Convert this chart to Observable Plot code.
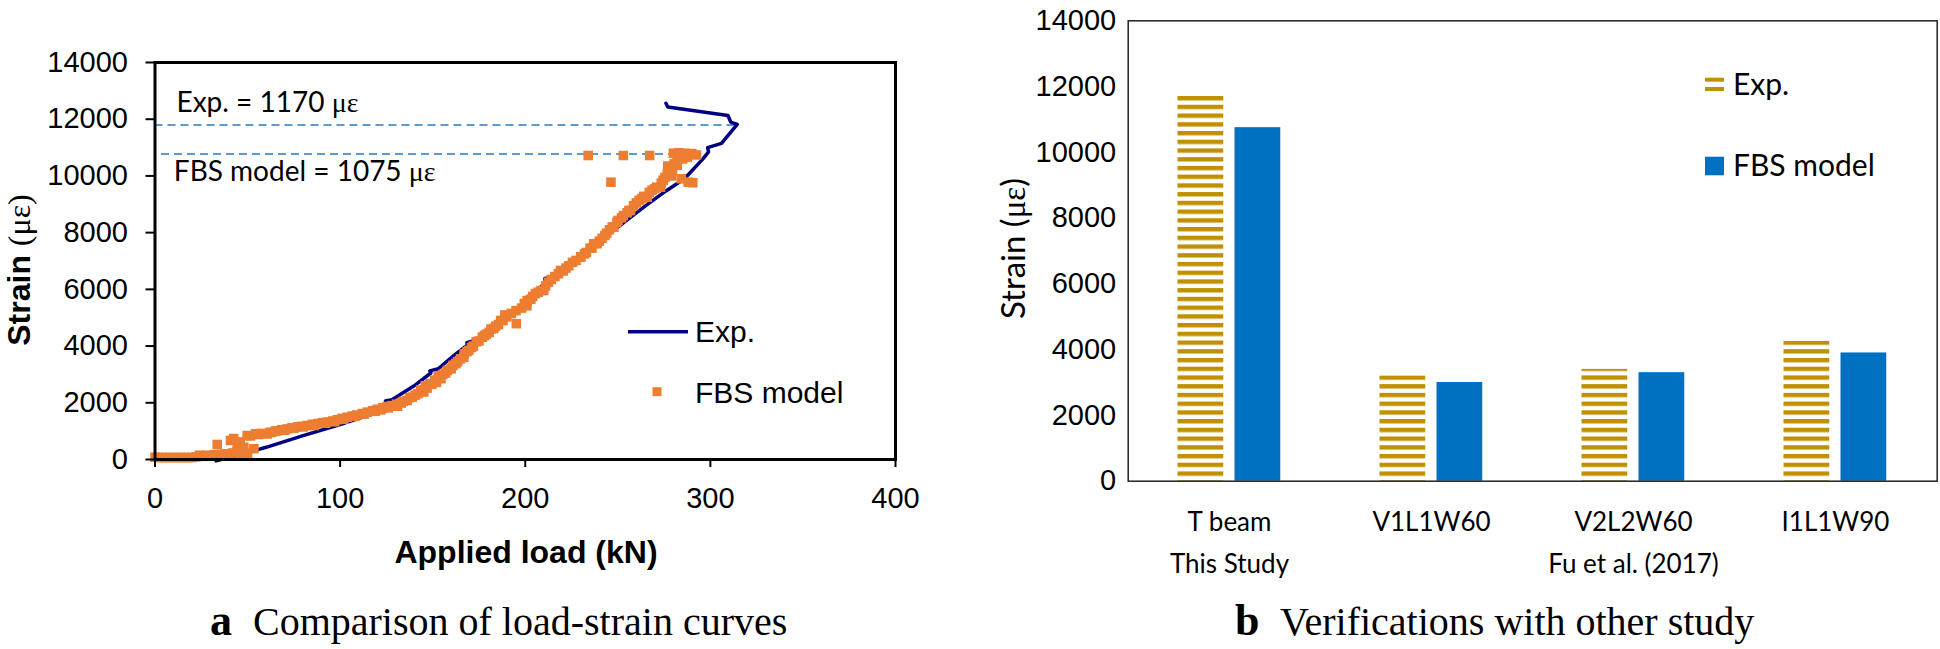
<!DOCTYPE html>
<html><head><meta charset="utf-8">
<script src="https://cdn.jsdelivr.net/npm/d3@7"></script>
<script src="https://cdn.jsdelivr.net/npm/@observablehq/plot@0.6"></script>
<style>
body{margin:0;background:#fff;}
#wrap{position:relative;width:1940px;height:649px;overflow:hidden;background:#fff}
#left,#right,#overlay{position:absolute;top:0}
#left{left:0;width:970px} #right{left:970px;width:970px} #overlay{left:0;pointer-events:none}
</style></head><body>
<div id="wrap"><div id="left"></div><div id="right"></div><svg id="overlay" width="1940" height="649"></svg></div>
<script>
// ---------- data: panel a ----------
const xTicks = [0, 100, 200, 300, 400];
const yTicks = [0, 2000, 4000, 6000, 8000, 10000, 12000, 14000];
const expCurve = [[33,-50],[45,150],[60,430],[80,840],[100,1235],[115,1560],[125,1850],[124.5,2060],[128,2110],[140,2600],[149,3050],[148.5,3120],[153,3200],[162,3700],[169,4050],[168.5,4120],[174,4230],[188,4950],[200,5550],[211,6250],[210.5,6380],[216,6450],[226,6950],[239,7610],[250,8190],[264,8900],[276,9470],[286,9900],[296,10600],[299,10850],[298.5,11000],[306,11150],[314.5,11820],[311,11900],[309.5,12130],[277,12430],[276,12560]];
const fbsPoints = [
[0,80],[2,70],[4,70],[6,70],[8,70],[10,70],[12,70],[14,70],[16,70],[18,70],[20,70],[22,90],[24,150],[26,110],[28,150],[30,120],[32,170],[34,140],[36,180],[38,200],[40,170],[42,230],[44,260],[46,200],[48,240],[50,170],
[33.6,530],[40.8,670],[42.5,740],[44.4,550],[46,620],[48,430],[49.8,846],[51.5,830],[53.4,380],[54.3,906],[56,880],[57.5,920],
[60.6,900],[63,960],[66,1010],[68.5,1050],[71.4,1080],[74,1120],[77,1150],[79.5,1170],[82.2,1200],[85,1240],[88,1270],[90.5,1300],[93,1320],[96,1360],[98.5,1400],[101,1450],[103.8,1490],[106.5,1530],[109,1570],[112,1620],[114.7,1670],[117.5,1720],[120,1770],[123,1820],[125.4,1870],[128,1900],[130.5,1950],[133,1990],[136.2,2080],[139,2200],[142,2320],[145.2,2380],[147,2520],[149.5,2650],[152,2720],[154.5,2850],[157,3050],[160,3200],[162.5,3380],[165,3550],[167,3730],[169.5,3850],[172,4000],[175,4180],[178,4370],[180.5,4480],[183,4620],[185.5,4760],[188,4900],[190,5030],[195.2,4790],[192.5,5150],[195,5250],[198,5340],[200.9,5420],[203,5650],[205.5,5850],[208.5,5960],[211,6120],[214,6350],[217.9,6550],[220.5,6650],[223.5,6830],[227.4,7020],[230,7150],[233,7300],[236,7450],[238.8,7610],[241.5,7800],[244,7980],[247,8200],[250.1,8430],[253,8600],[256,8780],[258.5,8950],[261.5,9140],[264,9280],[267,9420],[271,9600],[273.5,9750],[275.5,9950],[276.7,10080],[278.5,10250],[280.5,10430],[282,10600],[284.3,10720],[286,10800],[288,10780],[290,10790],[292.5,10740],[280,10800],[283,10820],
[277,10350],[279,10000],[284.3,9900],[288,9780],[290.5,9760],
[246.3,9780],[234,10720],[253,10720],[267.2,10720],
[62,950],[65,1000],[70,1030],[75,1100],[80,1150],[86,1200],[92,1280],[97,1330],[102,1420],[108,1520],[113,1600],[119,1700],[122,1750],[126,1820],[129,1880],
[131,1880],[134,2050],[137.5,2180],[140.5,2270],[143.5,2450],[146,2600],[148.4,2670],[151,2800],[153,2950],[155.5,3000],[157.9,3139],[161,3320],[163.5,3450],[166.8,3608],[168.5,3800],[171,3950],[173.5,4150],[176.8,4314],[179,4420],[181.5,4600],[184,4700],[186.7,4903],[189,5100],[199.5,5500],[201,5608],[204,5750],[207,5900],[210,5961],[212.5,6250],[216,6450],[219,6667],[222,6750],[225.5,6950],[229.9,7136],[232,7250],[235,7450],[237,7608],[240,7700],[243,7900],[245.5,8100],[247.9,8194],[249.5,8350],[252,8520],[255,8700],[256.9,8783],[260,9050],[263,9200],[265.9,9252],[268.5,9500],[270,9550],[273.1,9605],[274.5,9850],[277.6,10018],[279.5,10200],[282.1,10370],[285,10600],[287.5,10663]
];
const refLines = [{strain: 11800, from: 0, to: 314.5}, {strain: 10770, from: 3.5, to: 294}];
const annotationExp = ["Exp. = 1170 με"];
const annotationFbs = ["FBS model = 1075 με"];

// ---------- data: panel b ----------
const groups = ["T beam", "V1L1W60", "V2L2W60", "I1L1W90"];
const expValues = [11700, 3200, 3400, 4250];
const fbsValues = [10750, 3000, 3300, 3900];
const studies = [{group: "T beam", label: "This Study"}, {group: "V2L2W60", label: "Fu et al. (2017)"}];

const NS = "http://www.w3.org/2000/svg";
const fmt = d => String(d);

// ---------- panel a ----------
const expData = expCurve.map(([load, strain]) => ({load, strain}));
const fbsData = fbsPoints.map(([load, strain]) => ({load, strain}));

const left = Plot.plot({
  width: 970, height: 649,
  marginLeft: 154.5, marginRight: 75, marginTop: 62, marginBottom: 190,
  style: {fontFamily: "Liberation Sans", fontSize: "29px", background: "transparent", color: "#000"},
  x: {domain: [0, 400]},
  y: {domain: [0, 14000]},
  marks: [
    Plot.ruleY(refLines, {y: "strain", x1: "from", x2: "to", stroke: "#5B9BD5", strokeWidth: 2, strokeDasharray: "8,5"}),
    Plot.line(expData, {x: "load", y: "strain", stroke: "#000080", strokeWidth: 3.5}),
    Plot.dot(fbsData, {x: "load", y: "strain", symbol: "square", r: 5.4, fill: "#ED7D31", stroke: "none"}),
    Plot.text(annotationExp, {text: d => d, frameAnchor: "top-left", textAnchor: "start", lineAnchor: "middle", dx: 21.5, dy: 41, fontFamily: "Lato", fontSize: 28, fill: "#000"}),
    Plot.text(annotationFbs, {text: d => d, frameAnchor: "top-left", textAnchor: "start", lineAnchor: "middle", dx: 18.8, dy: 110, fontFamily: "Lato", fontSize: 28, fill: "#000"}),
    Plot.axisY({ticks: yTicks, tickSize: 9, tickPadding: 18, tickFormat: fmt, fontSize: 29, strokeWidth: 2, label: null}),
    Plot.axisX({ticks: xTicks, tickSize: 8, tickPadding: 20, tickFormat: fmt, fontSize: 29, strokeWidth: 2, label: null}),
    Plot.frame({stroke: "#000", strokeWidth: 3})
  ]
});
left.querySelectorAll("text").forEach(t => {
  const s = t.textContent;
  if (s.includes("με") && t.children.length === 0) {
    const i = s.indexOf("με");
    t.textContent = s.slice(0, i);
    const ts = document.createElementNS(NS, "tspan");
    ts.setAttribute("font-family", "Liberation Serif");
    ts.textContent = "με";
    t.appendChild(ts);
  }
});
document.getElementById("left").appendChild(left);

// ---------- panel b ----------
const rightExp = groups.map((g, i) => ({group: g, value: expValues[i]}));
const rightFbs = groups.map((g, i) => ({group: g, value: fbsValues[i]}));

const right = Plot.plot({
  width: 970, height: 649,
  marginLeft: 157.7, marginRight: 3.3, marginTop: 20.3, marginBottom: 168.3,
  style: {fontFamily: "Liberation Sans", fontSize: "29px", background: "transparent", color: "#000"},
  x: {domain: groups, padding: 0},
  y: {domain: [0, 14000]},
  marks: [
    Plot.barY(rightExp, {x: "group", y: "value", fill: "url(#expStripes)", insetLeft: 49.5, insetRight: 106.75}),
    Plot.barY(rightFbs, {x: "group", y: "value", fill: "#0070C0", insetLeft: 106.5, insetRight: 49.75}),
    Plot.axisY({ticks: yTicks, tickSize: 0, tickPadding: 12, tickFormat: fmt, fontSize: 29, label: null}),
    Plot.axisX({tickSize: 0, tickPadding: 31, fontSize: 26, fontFamily: "Lato", label: null}),
    Plot.text(studies, {x: "group", text: "label", frameAnchor: "bottom", lineAnchor: "top", dy: 73.5, fontSize: 26, fontFamily: "Lato", fill: "#000"}),
    Plot.frame({stroke: "#222", strokeWidth: 1.5})
  ]
});
{
  const defs = document.createElementNS(NS, "defs");
  const pat = document.createElementNS(NS, "pattern");
  pat.setAttribute("id", "expStripes");
  pat.setAttribute("patternUnits", "userSpaceOnUse");
  pat.setAttribute("width", "10");
  pat.setAttribute("height", "8.73");
  const r = document.createElementNS(NS, "rect");
  r.setAttribute("x", "0"); r.setAttribute("y", "0");
  r.setAttribute("width", "10"); r.setAttribute("height", "4.4");
  r.setAttribute("fill", "#BF9000");
  pat.appendChild(r); defs.appendChild(pat);
  right.insertBefore(defs, right.firstChild);
}
document.getElementById("right").appendChild(right);

// ---------- titles, captions, legends ----------
const ov = d3.select("#overlay");
// panel a y title
const ya = ov.append("text").attr("transform", "translate(30,270) rotate(-90)").attr("text-anchor", "middle");
ya.append("tspan").attr("font-family", "Liberation Sans").attr("font-weight", "bold").attr("font-size", 32).text("Strain ");
ya.append("tspan").attr("font-family", "Liberation Serif").attr("font-size", 32).text("(με)");
// panel a x title
ov.append("text").attr("x", 526).attr("y", 563).attr("text-anchor", "middle")
  .attr("font-family", "Liberation Sans").attr("font-weight", "bold").attr("font-size", 32).text("Applied load (kN)");
// panel a legend
ov.append("line").attr("x1", 628).attr("x2", 688).attr("y1", 331.7).attr("y2", 331.7).attr("stroke", "#000080").attr("stroke-width", 3.5);
ov.append("text").attr("x", 695).attr("y", 341.7).attr("font-family", "Liberation Sans").attr("font-size", 30).text("Exp.");
ov.append("rect").attr("x", 652.5).attr("y", 387.2).attr("width", 9).attr("height", 9).attr("fill", "#ED7D31");
ov.append("text").attr("x", 695).attr("y", 403.3).attr("font-family", "Liberation Sans").attr("font-size", 30).text("FBS model");
// captions
ov.append("text").attr("x", 210).attr("y", 635).attr("font-family", "Liberation Serif").attr("font-weight", "bold").attr("font-size", 44).text("a");
ov.append("text").attr("x", 253).attr("y", 635).attr("font-family", "Liberation Serif").attr("font-size", 40).text("Comparison of load-strain curves");
ov.append("text").attr("x", 1235).attr("y", 635).attr("font-family", "Liberation Serif").attr("font-weight", "bold").attr("font-size", 44).text("b");
ov.append("text").attr("x", 1280).attr("y", 635).attr("font-family", "Liberation Serif").attr("font-size", 40).text("Verifications with other study");
// panel b y title
const yb = ov.append("text").attr("transform", "translate(1025,248.5) rotate(-90)").attr("text-anchor", "middle").attr("font-size", 33);
yb.append("tspan").attr("font-family", "Lato").text("Strain (");
yb.append("tspan").attr("font-family", "Liberation Serif").text("με");
yb.append("tspan").attr("font-family", "Lato").text(")");
// panel b legend
ov.append("rect").attr("x", 1705).attr("y", 77.7).attr("width", 19).attr("height", 4).attr("fill", "#BF9000");
ov.append("rect").attr("x", 1705).attr("y", 87).attr("width", 19).attr("height", 4).attr("fill", "#BF9000");
ov.append("text").attr("x", 1733).attr("y", 95).attr("font-family", "Lato").attr("font-size", 30).text("Exp.");
ov.append("rect").attr("x", 1705).attr("y", 156.7).attr("width", 19).attr("height", 18.6).attr("fill", "#0070C0");
ov.append("text").attr("x", 1733).attr("y", 176).attr("font-family", "Lato").attr("font-size", 30).text("FBS model");
</script>
</body></html>
